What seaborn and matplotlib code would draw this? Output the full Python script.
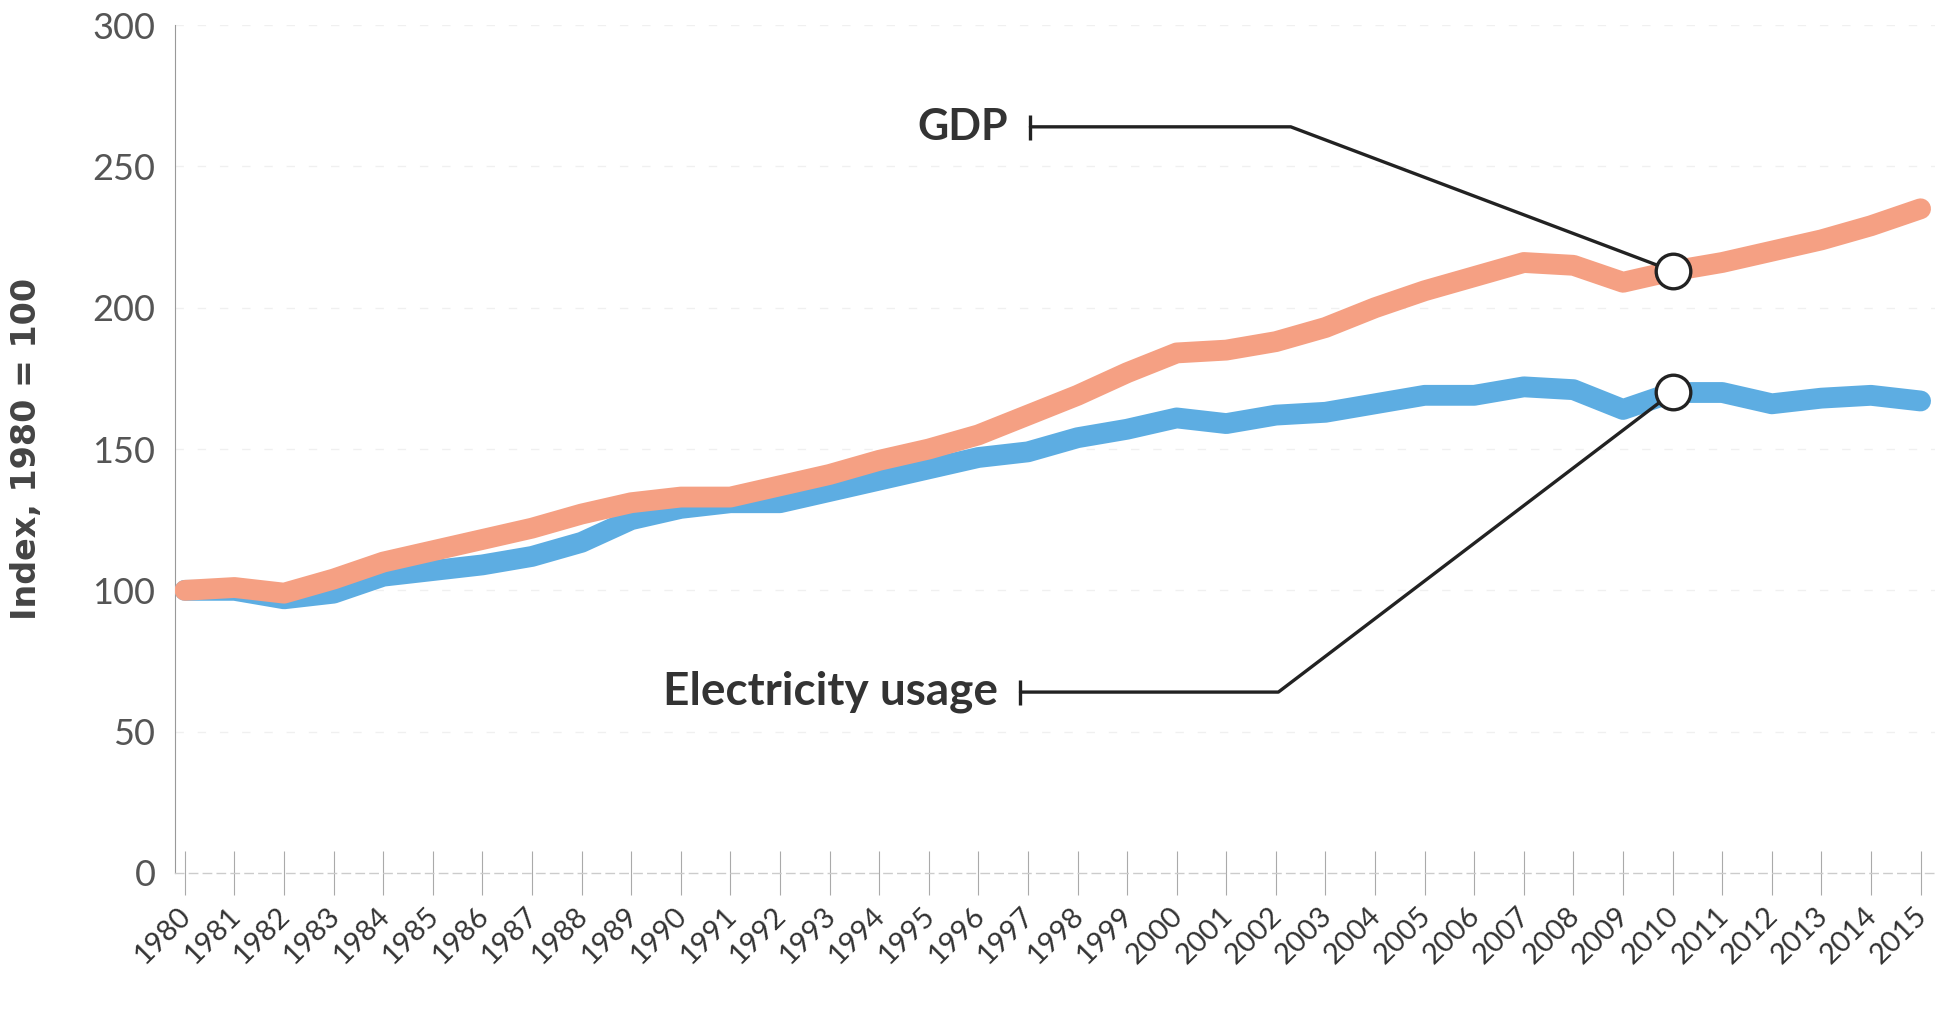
import pandas as pd
import seaborn as sns
import matplotlib.pyplot as plt
from matplotlib.transforms import ScaledTranslation

years = list(range(1980, 2016))
gdp = [100, 101, 99, 104, 110, 114, 118, 122, 127, 131, 133, 133, 137, 141, 146, 150, 155, 162,
       169, 177, 184, 185, 188, 193, 200, 206, 211, 216, 215, 209, 213, 216, 220, 224, 229, 235]
electricity = [100, 100, 97, 99, 105, 107, 109, 112, 117, 125, 129, 131, 131, 135, 139, 143, 147, 149,
               154, 157, 161, 159, 162, 163, 166, 169, 169, 172, 171, 164, 170, 170, 166, 168, 169, 167]
series_names = ['Electricity usage', 'GDP']
highlight_year = 2010
y_ticks = [0, 50, 100, 150, 200, 250, 300]

df = pd.DataFrame({'year': years * 2,
                   'value': electricity + gdp,
                   'series': ['Electricity usage'] * len(years) + ['GDP'] * len(years)})

sns.set_style('white')
plt.rcParams['font.family'] = ['Lato', 'DejaVu Sans']

fig = plt.figure(figsize=(19.55, 10.24), dpi=100)
ax = fig.add_axes([0.0895, 0.1475, 0.9005, 0.828])

sns.lineplot(data=df, x='year', y='value', hue='series', hue_order=series_names,
             palette={'Electricity usage': '#5DADE2', 'GDP': '#F5A083'},
             linewidth=15, legend=False, ax=ax, solid_capstyle='round', zorder=3)

ax.set_xlim(1979.8, 2015.3)
ax.set_ylim(0, 300)
ax.set_yticks(y_ticks)
ax.set_xticks(years)
ax.set_xticklabels([str(y) for y in years], rotation=45, ha='right', va='center',
                   rotation_mode='anchor', fontsize=21, color='#333333')
ax.tick_params(axis='x', bottom=True, direction='inout', length=32, width=0.8, color='#aaaaaa', pad=12)
ax.tick_params(axis='y', length=0, pad=14, labelsize=26, labelcolor='#555555')
shift = ScaledTranslation(0.02, 0, fig.dpi_scale_trans)
for lab in ax.get_xticklabels():
    lab.set_transform(lab.get_transform() + shift)

ax.set_xlabel('')
ax.set_ylabel('Index, 1980 = 100', fontsize=24, fontweight='bold', color='#444444',
              labelpad=36, family='DejaVu Sans')

for y in y_ticks[1:]:
    ax.axhline(y, color='#f0f0f0', lw=1, ls=(0, (6, 10)), zorder=0)

sns.despine(ax=ax, top=True, right=True)
ax.spines['left'].set_color('#999999')
ax.spines['left'].set_linewidth(0.8)
ax.spines['bottom'].set_color('#cccccc')
ax.spines['bottom'].set_linestyle((0, (6, 4)))
ax.spines['bottom'].set_linewidth(1)

# annotations with elbow leaders
i = years.index(highlight_year)
ax.plot([1997.05, 2002.3, highlight_year], [264, 264, gdp[i]], color='#222222', lw=2.4, zorder=4)
ax.plot([1997.05], [264], marker='|', markersize=18, mew=2.4, color='#222222', zorder=4)
ax.text(1996.6, 264, 'GDP', ha='right', va='center', fontsize=31, fontweight='bold', color='#333333')

ax.plot([1996.85, 2002.05, highlight_year], [64, 64, electricity[i]], color='#222222', lw=2.4, zorder=4)
ax.plot([1996.85], [64], marker='|', markersize=18, mew=2.4, color='#222222', zorder=4)
ax.text(1996.4, 64, 'Electricity usage', ha='right', va='center', fontsize=33, fontweight='bold',
        color='#333333')

ax.scatter([highlight_year, highlight_year], [gdp[i], electricity[i]], s=620, facecolor='white',
           edgecolor='#222222', linewidth=2.4, zorder=5)

fig.savefig('out.png', dpi=100)
